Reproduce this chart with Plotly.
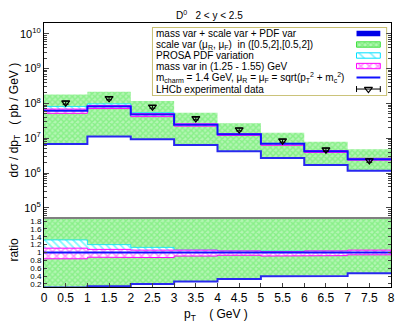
import plotly.graph_objects as go

# bin edges in pT (GeV)
pt_edges = [0, 1, 2, 3, 4, 5, 6, 7, 8]
pt_centers = [0.5, 1.5, 2.5, 3.5, 4.5, 5.5, 6.5, 7.5]

# central prediction, m_charm = 1.4 GeV (pb/GeV)
central = [6.2e7, 8.1e7, 4.8e7, 2.45e7, 1.3e7, 6.9e6, 4.25e6, 2.5e6]
# scale variation band
scale_hi = [1.8e8, 2.15e8, 1.17e8, 5.4e7, 2.7e7, 1.45e7, 7.9e6, 4.8e6]
scale_lo = [7.2e6, 1.17e7, 9.5e6, 6.6e6, 4.3e6, 2.75e6, 1.75e6, 1.2e6]
# total (mass + scale + PDF) lower edge
total_lo = [6.8e6, 1.12e7, 9.3e6, 6.4e6, 4.2e6, 2.7e6, 1.7e6, 1.17e6]
# mass and PDF variations, as ratio to central
mass_lo_r = [0.84, 0.88, 0.87, 0.91, 0.93, 0.91, 0.92, 0.94]
mass_hi_r = [1.11, 1.08, 1.06, 1.06, 1.04, 1.02, 1.04, 1.06]
pdf_lo_r = [0.88, 0.90, 0.92, 0.95, 0.96, 0.96, 0.96, 0.96]
pdf_hi_r = [1.32, 1.20, 1.13, 1.06, 1.04, 1.03, 1.03, 1.03]
# LHCb data
lhcb = [1.05e8, 1.4e8, 8.0e7, 3.7e7, 1.78e7, 8.5e6, 4.7e6, 2.3e6]
lhcb_err = [1.0e7, 1.3e7, 7e6, 3.3e6, 1.6e6, 8e5, 4.5e5, 2.5e5]

legend_labels = [
    "mass var + scale var + PDF var",
    "scale var (μ<sub>R</sub>, μ<sub>F</sub>)  in ([0.5,2],[0.5,2])",
    "PROSA PDF variation",
    "mass var in (1.25 - 1.55) GeV",
    "m<sub>charm</sub> = 1.4 GeV, μ<sub>R</sub> = μ<sub>F</sub> = sqrt(p<sub>T</sub><sup>2</sup> + m<sub>c</sub><sup>2</sup>)",
    "LHCb experimental data",
]

FONT = "Liberation Sans, Arial, sans-serif"


def steps(vals):
    xs, ys = [], []
    for i, v in enumerate(vals):
        xs += [pt_edges[i], pt_edges[i + 1]]
        ys += [v, v]
    return xs, ys


def band(lo, hi):
    xs, ylo = steps(lo)
    _, yhi = steps(hi)
    return xs + xs[::-1], yhi + ylo[::-1]


green_pat = dict(shape="x", fgcolor="#5ce85c", bgcolor="#b4f6b4", size=4, solidity=0.6)
cyan_pat = dict(shape="\\", fgcolor="#00f0ff", bgcolor="white", size=5, solidity=0.35)
mag_pat = dict(shape="x", fgcolor="#ff30ff", bgcolor="white", size=6, solidity=0.5)

fig = go.Figure()

for xa, ya, ratio in [("x2", "y2", False), ("x", "y", True)]:
    norm = central if ratio else [1.0] * 8
    c = [1.0] * 8 if ratio else central

    def sc(v):
        return [a / b for a, b in zip(v, norm)]

    mlo = [r * k for r, k in zip(mass_lo_r, c)]
    mhi = [r * k for r, k in zip(mass_hi_r, c)]
    plo = [r * k for r, k in zip(pdf_lo_r, c)]
    phi = [r * k for r, k in zip(pdf_hi_r, c)]

    bx, by = band(sc(scale_lo), sc(scale_hi))
    fig.add_trace(go.Scatter(x=bx, y=by, fill="toself", mode="lines", line=dict(width=0),
                             fillcolor="rgba(0,0,0,0)", fillpattern=green_pat,
                             xaxis=xa, yaxis=ya, showlegend=False, hoverinfo="skip"))
    lx, ly = steps(sc(total_lo))
    fig.add_trace(go.Scatter(x=lx, y=ly, mode="lines", line=dict(color="#2828f0", width=2),
                             xaxis=xa, yaxis=ya, showlegend=False))
    bx, by = band(plo, phi)
    fig.add_trace(go.Scatter(x=bx, y=by, fill="toself", mode="lines",
                             line=dict(width=0.8, color="#00e0ff"),
                             fillcolor="rgba(0,0,0,0)", fillpattern=cyan_pat,
                             xaxis=xa, yaxis=ya, showlegend=False, hoverinfo="skip"))
    bx, by = band(mlo, mhi)
    fig.add_trace(go.Scatter(x=bx, y=by, fill="toself", mode="lines",
                             line=dict(width=1, color="#ff00ff"),
                             fillcolor="rgba(0,0,0,0)", fillpattern=mag_pat,
                             xaxis=xa, yaxis=ya, showlegend=False, hoverinfo="skip"))
    cx, cy = steps(sc(central))
    fig.add_trace(go.Scatter(x=cx, y=cy, mode="lines", line=dict(color="#1010ff", width=2),
                             xaxis=xa, yaxis=ya, showlegend=False))

fig.add_trace(go.Scatter(x=pt_centers, y=lhcb, mode="markers",
                         marker=dict(symbol="triangle-down-open", size=7, color="black",
                                     line=dict(width=1.2)),
                         error_y=dict(type="data", array=lhcb_err, color="black",
                                      thickness=1, width=3),
                         xaxis="x2", yaxis="y2", showlegend=False))

# legend swatches on a hidden overlay axis
rows = [0.918, 0.754, 0.590, 0.433, 0.261, 0.09]
sx0, sx1, hh = 0.873, 0.975, 0.04
swatches = [
    dict(fillcolor="#0000e8", fillpattern=None, line=dict(width=0)),
    dict(fillcolor="rgba(0,0,0,0)", fillpattern=green_pat, line=dict(width=1, color="#40e040")),
    dict(fillcolor="rgba(0,0,0,0)", fillpattern=dict(shape="\\", fgcolor="#00e0ff", bgcolor="white", size=8, solidity=0.2), line=dict(width=1, color="#00e0ff")),
    dict(fillcolor="rgba(0,0,0,0)", fillpattern=mag_pat, line=dict(width=1, color="#ff00ff")),
]
for r, sw in zip(rows[:4], swatches):
    kw = dict(sw)
    if kw["fillpattern"] is None:
        kw.pop("fillpattern")
    fig.add_trace(go.Scatter(x=[sx0, sx1, sx1, sx0, sx0], y=[r - hh, r - hh, r + hh, r + hh, r - hh],
                             fill="toself", mode="lines", xaxis="x3", yaxis="y3",
                             showlegend=False, hoverinfo="skip", **kw))
fig.add_trace(go.Scatter(x=[sx0, sx1], y=[rows[4], rows[4]], mode="lines",
                         line=dict(color="#1010ff", width=2), xaxis="x3", yaxis="y3",
                         showlegend=False))
fig.add_trace(go.Scatter(x=[(sx0 + sx1) / 2], y=[rows[5]], mode="markers",
                         marker=dict(symbol="triangle-down-open", size=7, color="black",
                                     line=dict(width=1.2)),
                         error_x=dict(type="data", array=[(sx1 - sx0) / 2], color="black",
                                      thickness=1, width=3),
                         xaxis="x3", yaxis="y3", showlegend=False))

annotations = []
for r, lab in zip(rows, legend_labels):
    annotations.append(dict(x=0.005, y=r, xref="x3", yref="y3", text=lab, showarrow=False,
                            xanchor="left", yanchor="middle", font=dict(size=10, color="black")))

annotations += [
    dict(x=0.476, y=1.032, xref="paper", yref="paper", showarrow=False,
         xanchor="center", yanchor="middle",
         text="D<sup>0</sup>   2 < y < 2.5", font=dict(size=10)),
    dict(x=-0.085, y=0.633, xref="paper", yref="paper", showarrow=False, textangle=-90,
         xanchor="center", yanchor="middle",
         text="dσ / dp<sub>T</sub>   ( pb / GeV )", font=dict(size=12)),
    dict(x=-0.085, y=0.14, xref="paper", yref="paper", showarrow=False, textangle=-90,
         xanchor="center", yanchor="middle",
         text="ratio", font=dict(size=12)),
    dict(x=0.496, y=-0.106, xref="paper", yref="paper", showarrow=False,
         xanchor="center", yanchor="middle",
         text="p<sub>T</sub>    ( GeV )", font=dict(size=12)),
]

split = 0.2614
ratio_ticks = [0.2, 0.4, 0.6, 0.8, 1.0, 1.2, 1.4, 1.6, 1.8]

# page body has an 8px margin, so the figure is trimmed by that amount
fig.update_layout(
    width=399, height=318,
    margin=dict(l=32, r=14, t=15, b=39),
    plot_bgcolor="white", paper_bgcolor="white",
    font=dict(family=FONT, color="black"),
    xaxis=dict(domain=[0, 1], range=[0, 8], dtick=0.5, ticks="inside", ticklen=4,
               showline=True, linecolor="black", mirror=True, showgrid=False, zeroline=False,
               tickfont=dict(size=12), anchor="y"),
    yaxis=dict(domain=[0, split], range=[0.12, 1.88], tickvals=ratio_ticks,
               ticktext=[f"{v:g}" for v in ratio_ticks], ticks="inside", ticklen=3,
               showline=True, linecolor="black", mirror="ticks", showgrid=False,
               zeroline=False, tickfont=dict(size=8), anchor="x"),
    xaxis2=dict(domain=[0, 1], range=[0, 8], dtick=0.5, ticks="", showticklabels=False,
                showline=True, linecolor="black", mirror=True, showgrid=False, zeroline=False,
                anchor="y2", matches="x"),
    yaxis2=dict(domain=[split, 1], type="log", range=[4.71, 10.31],
                tickvals=[1e5, 1e6, 1e7, 1e8, 1e9, 1e10],
                ticktext=[f"10<sup>{e}</sup>" for e in range(5, 11)],
                ticks="inside", ticklen=5, showline=True, linecolor="black", mirror="ticks",
                showgrid=False, zeroline=False, tickfont=dict(size=11), anchor="x2",
                minor=dict(ticks="inside", ticklen=3, dtick="D1", showgrid=False)),
    xaxis3=dict(domain=[0.314, 0.986], range=[0, 1], visible=False, anchor="y3", fixedrange=True),
    yaxis3=dict(domain=[0.727, 0.981], range=[0, 1], visible=False, anchor="x3", fixedrange=True),
    annotations=annotations,
    shapes=[
        dict(type="rect", xref="x3 domain", yref="y3 domain", x0=0, x1=1, y0=0, y1=1,
             line=dict(color="#c8bf70", width=2), fillcolor="white", layer="below"),
        dict(type="line", xref="paper", yref="paper", x0=0, x1=1, y0=split, y1=split,
             line=dict(color="#808080", width=2)),
    ],
)

fig.write_html("out.html")
